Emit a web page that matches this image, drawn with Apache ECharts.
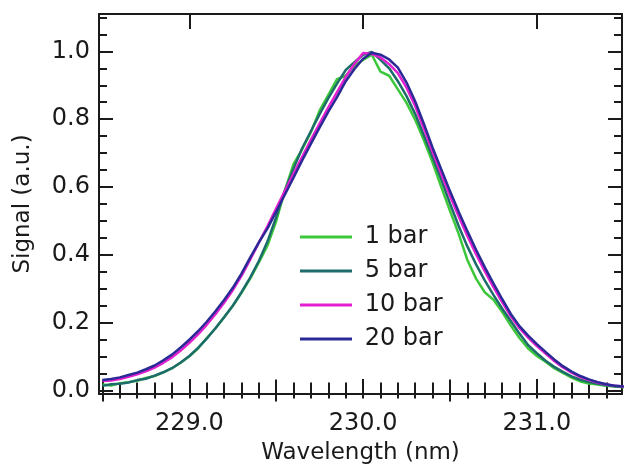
<!DOCTYPE html>
<html><head><meta charset="utf-8">
<script src="https://cdn.jsdelivr.net/npm/echarts@6/dist/echarts.min.js"></script>
<style>html,body{margin:0;padding:0;background:#fff}#c{width:624px;height:468px}</style>
</head><body><div id="c"></div>
<script>
// ---- data ----
const wavelength = [228.50,228.55,228.60,228.65,228.70,228.75,228.80,228.85,228.90,228.95,
229.00,229.05,229.10,229.15,229.20,229.25,229.30,229.35,229.40,229.45,
229.50,229.55,229.60,229.65,229.70,229.75,229.80,229.85,229.90,229.95,
230.00,230.05,230.10,230.15,230.20,230.25,230.30,230.35,230.40,230.45,
230.50,230.55,230.60,230.65,230.70,230.75,230.80,230.85,230.90,230.95,
231.00,231.05,231.10,231.15,231.20,231.25,231.30,231.35,231.40,231.45,231.50];

const bar1 = [0.018,0.015,0.022,0.025,0.029,0.037,0.043,0.054,0.066,0.082,
0.101,0.124,0.155,0.183,0.216,0.250,0.288,0.330,0.378,0.428,
0.500,0.590,0.668,0.712,0.762,0.826,0.872,0.918,0.928,0.958,
0.975,0.990,0.940,0.928,0.888,0.848,0.798,0.738,0.672,0.600,
0.530,0.462,0.385,0.330,0.290,0.268,0.232,0.192,0.155,0.124,
0.102,0.085,0.066,0.052,0.038,0.027,0.021,0.018,0.014,0.012,0.010];

const bar5 = [0.014,0.019,0.020,0.024,0.031,0.035,0.044,0.054,0.066,0.083,
0.102,0.126,0.153,0.184,0.216,0.250,0.290,0.333,0.382,0.440,
0.512,0.590,0.655,0.715,0.765,0.815,0.862,0.905,0.945,0.968,
0.990,0.998,0.975,0.950,0.912,0.868,0.815,0.752,0.688,0.622,
0.552,0.485,0.425,0.372,0.325,0.282,0.242,0.205,0.168,0.134,
0.110,0.088,0.070,0.055,0.042,0.032,0.025,0.020,0.016,0.013,0.011];

const bar10 = [0.028,0.030,0.034,0.041,0.048,0.057,0.068,0.082,0.098,0.118,
0.141,0.166,0.194,0.225,0.259,0.296,0.338,0.386,0.436,0.485,
0.537,0.589,0.640,0.690,0.740,0.788,0.835,0.880,0.925,0.963,
0.995,0.992,0.982,0.962,0.936,0.893,0.838,0.772,0.703,0.638,
0.574,0.513,0.456,0.402,0.352,0.305,0.261,0.219,0.184,0.156,
0.131,0.109,0.087,0.068,0.053,0.040,0.031,0.024,0.018,0.014,0.012];

const bar20 = [0.031,0.034,0.039,0.046,0.053,0.063,0.074,0.089,0.106,0.127,
0.150,0.175,0.203,0.234,0.267,0.303,0.345,0.392,0.437,0.478,
0.528,0.578,0.628,0.679,0.728,0.776,0.822,0.865,0.912,0.948,
0.978,0.996,0.990,0.976,0.952,0.908,0.852,0.786,0.716,0.652,
0.588,0.527,0.470,0.415,0.364,0.316,0.270,0.226,0.190,0.162,
0.137,0.114,0.092,0.072,0.056,0.043,0.033,0.025,0.019,0.014,0.012];

const seriesNames = ['1 bar','5 bar','10 bar','20 bar'];
const seriesData = [bar1, bar5, bar10, bar20];
const seriesColors = ['#3cc83a','#1e6b6b','#e41fd2','#2a2a96'];

const xMajorTicks = [229.0, 230.0, 231.0];
const xHalfTicks = [228.5, 229.5, 230.5, 231.5];
const yMajorTicks = [0.0, 0.2, 0.4, 0.6, 0.8, 1.0];

// ---- axes helpers ----
const xMin = 228.48, xMax = 231.49, yMin = -0.01, yMax = 1.11;
const xMinorTicks = []; for (let i = 0; i <= 30; i++) xMinorTicks.push(Math.round((228.5 + i * 0.1) * 100) / 100);
const yMinorTicks = []; for (let i = 0; i <= 22; i++) yMinorTicks.push(Math.round(i * 0.05 * 100) / 100);

const AX = '#1a1a1a';
const FONT = 'DejaVu Sans';
const gridRect = {left: 99, right: 2, top: 14, bottom: 74, containLabel: false, outerBoundsMode: 'none'};

function xAx(gi, pos, ticks, len, opts) {
  return Object.assign({
    type: 'value', gridIndex: gi, position: pos, min: xMin, max: xMax,
    axisLine: {show: false},
    axisTick: {show: true, inside: true, length: len, customValues: ticks, lineStyle: {color: AX, width: 2}},
    axisLabel: {show: false},
    splitLine: {show: false}
  }, opts || {});
}
function yAx(gi, pos, ticks, len, opts) {
  return Object.assign({
    type: 'value', gridIndex: gi, position: pos, min: yMin, max: yMax,
    axisLine: {show: false},
    axisTick: {show: true, inside: true, length: len, customValues: ticks, lineStyle: {color: AX, width: 2}},
    axisLabel: {show: false},
    splitLine: {show: false}
  }, opts || {});
}

const grids = [0,1,2,3,4,5].map(() => Object.assign({}, gridRect));

const xAxes = [
  xAx(0, 'bottom', xMajorTicks, 15, {
    axisLine: {show: true, onZero: false, lineStyle: {color: AX, width: 2}},
    axisLabel: {show: true, customValues: xMajorTicks, formatter: v => v.toFixed(1),
      fontFamily: FONT, fontSize: 24, color: '#1a1a1a', margin: 18,
      alignMinLabel: 'center', alignMaxLabel: 'center', hideOverlap: false},
    name: 'Wavelength (nm)', nameLocation: 'middle', nameGap: 48,
    nameTextStyle: {fontFamily: FONT, fontSize: 23, color: '#1a1a1a'}
  }),
  xAx(1, 'bottom', xMinorTicks, 8),
  xAx(2, 'bottom', xHalfTicks, 11),
  xAx(3, 'top', xMajorTicks, 15, {axisLine: {show: true, onZero: false, lineStyle: {color: AX, width: 2}}}),
  xAx(4, 'top', xMinorTicks, 8),
  xAx(5, 'top', xHalfTicks, 11)
];
const yAxes = [
  yAx(0, 'left', yMajorTicks, 14, {
    axisLine: {show: true, onZero: false, lineStyle: {color: AX, width: 2}},
    axisLabel: {show: true, customValues: yMajorTicks, formatter: v => v.toFixed(1),
      fontFamily: FONT, fontSize: 24, color: '#1a1a1a', margin: 9,
      verticalAlignMinLabel: 'middle', verticalAlignMaxLabel: 'middle', hideOverlap: false},
    name: 'Signal (a.u.)', nameLocation: 'middle', nameGap: 64, nameRotate: 90,
    nameTextStyle: {fontFamily: FONT, fontSize: 23, color: '#1a1a1a'}
  }),
  yAx(1, 'left', yMinorTicks, 8),
  yAx(2, 'left', [], 0, {axisTick: {show: false}}),
  yAx(3, 'right', yMajorTicks, 14, {axisLine: {show: true, onZero: false, lineStyle: {color: AX, width: 2}}}),
  yAx(4, 'right', yMinorTicks, 8),
  yAx(5, 'right', [], 0, {axisTick: {show: false}})
];

const series = seriesNames.map((name, i) => ({
  name: name, type: 'line', xAxisIndex: 0, yAxisIndex: 0,
  data: wavelength.map((w, k) => [w, seriesData[i][k]]),
  showSymbol: false, symbol: 'none', clip: true,
  lineStyle: {color: seriesColors[i], width: 2.5},
  itemStyle: {color: seriesColors[i]}
}));

const chart = echarts.init(document.getElementById('c'), null, {renderer: 'canvas'});
chart.setOption({
  animation: false,
  backgroundColor: '#ffffff',
  grid: grids,
  xAxis: xAxes,
  yAxis: yAxes,
  legend: {
    data: seriesNames, orient: 'vertical', left: 300, top: 225, padding: 0,
    icon: 'rect', itemWidth: 52, itemHeight: 3, itemGap: 10,
    formatter: n => ' ' + n,
    textStyle: {fontFamily: FONT, fontSize: 24, color: '#1a1a1a', lineHeight: 24}
  },
  series: series
});
</script></body></html>
